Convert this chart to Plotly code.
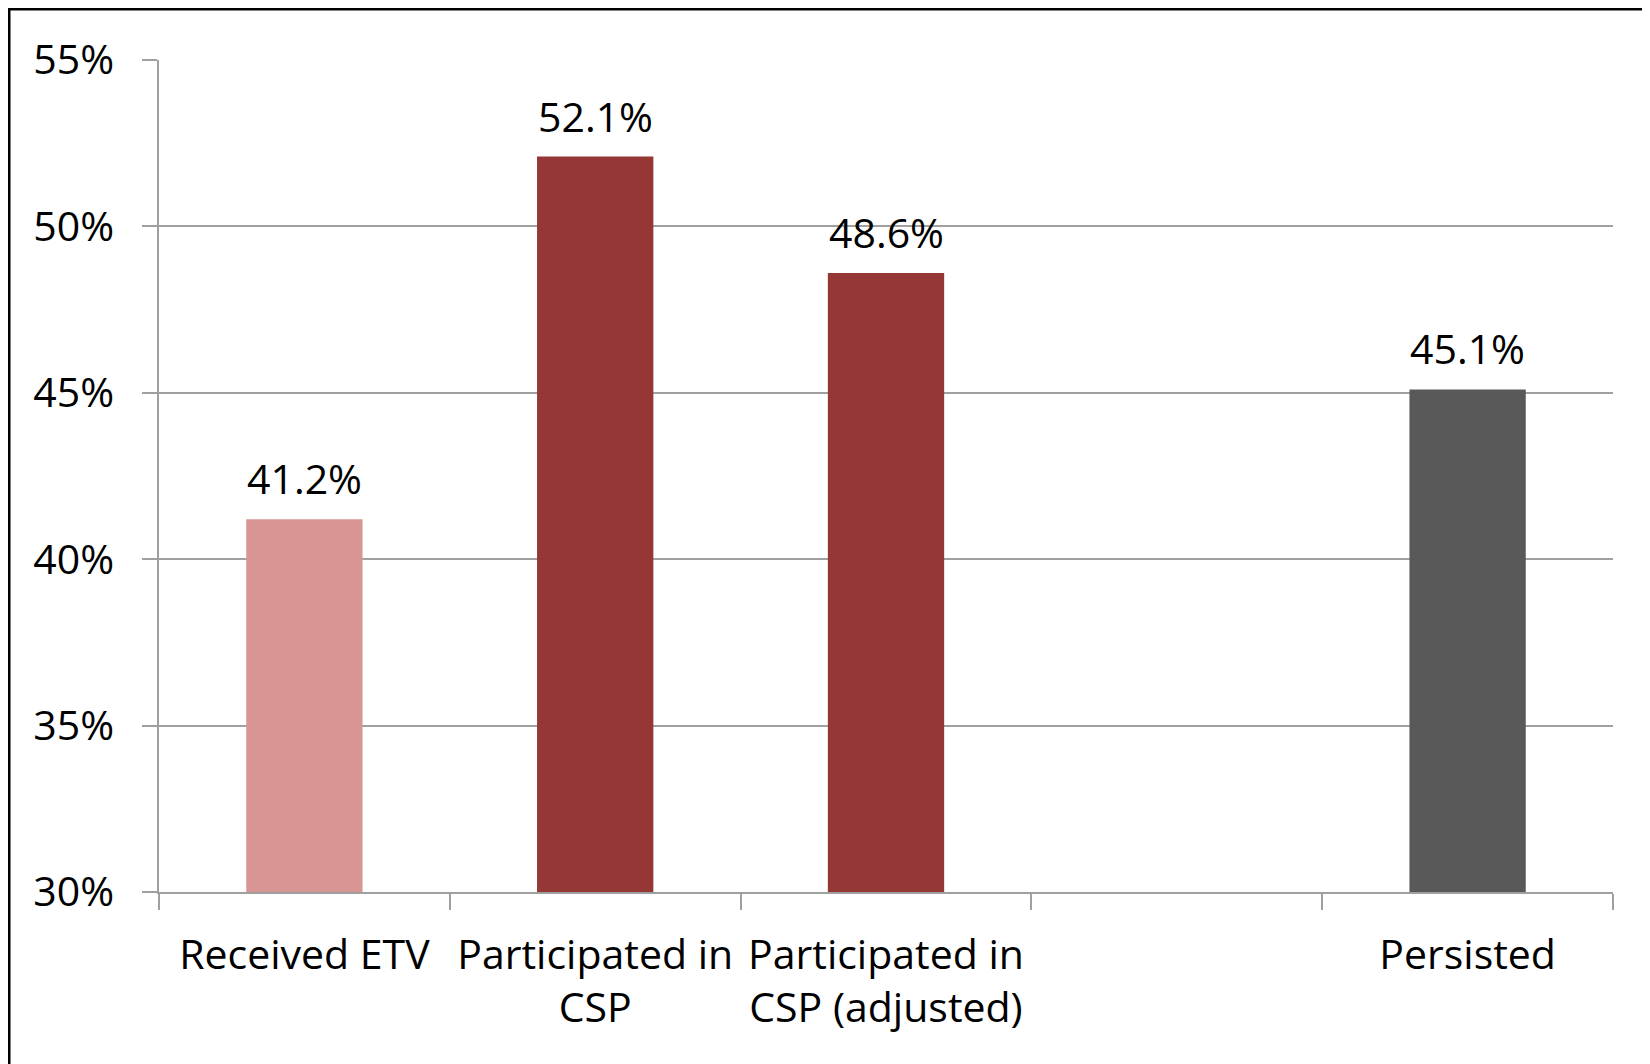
import plotly.graph_objects as go

categories = ["Received ETV", "Participated in<br>CSP", "Participated in<br>CSP (adjusted)", " ", "Persisted"]
values = [41.2, 52.1, 48.6, None, 45.1]
labels = ["41.2%", "52.1%", "48.6%", "", "45.1%"]
colors = ["#D99594", "#953735", "#953735", "#953735", "#595959"]

FONT = "Open Sans"
FS = 41
W, H = 1642, 1056
ML, MR, MT, MB = 151, 37, 52, 172

fig = go.Figure()
fig.add_trace(go.Bar(x=categories, y=values, marker=dict(color=colors, line=dict(width=0)),
                     hoverinfo="skip"))

for c, v, t in zip(categories, values, labels):
    if v is None:
        continue
    fig.add_annotation(x=c, y=v, text=t, showarrow=False, yanchor="bottom", yshift=11,
                       font=dict(family=FONT, size=FS, color="black"))

pw = W - ML - MR
ph = H - MT - MB
fig.add_shape(type="rect", xref="paper", yref="paper",
              x0=(1 - ML) / pw, x1=1 + (MR + 20) / pw,
              y0=-(MB + 20) / ph, y1=1 + (MT - 1) / ph,
              line=dict(color="black", width=3), layer="below")

fig.update_layout(
    width=W, height=H,
    margin=dict(l=ML, r=MR, t=MT, b=MB),
    paper_bgcolor="white", plot_bgcolor="white",
    bargap=0.6, showlegend=False,
    font=dict(family=FONT, size=FS, color="black"),
    xaxis=dict(type="category", categoryorder="array", categoryarray=categories,
               tickson="boundaries", ticks="outside", ticklen=16, tickcolor="#A0A0A0",
               tickwidth=1.5, showline=True, linecolor="#A0A0A0", linewidth=1.5,
               showgrid=False, tickfont=dict(family=FONT, size=FS, color="black"),
               ticklabelstandoff=26),
    yaxis=dict(range=[30, 55], dtick=5, ticksuffix="%", ticks="outside", ticklen=15,
               tickcolor="#A0A0A0", tickwidth=1.5, showline=True, linecolor="#A0A0A0",
               linewidth=1.5, showgrid=True, gridcolor="#A0A0A0", gridwidth=1.5,
               zeroline=False, tickfont=dict(family=FONT, size=FS, color="black"),
               ticklabelstandoff=20),
)

fig.write_html("out.html")
